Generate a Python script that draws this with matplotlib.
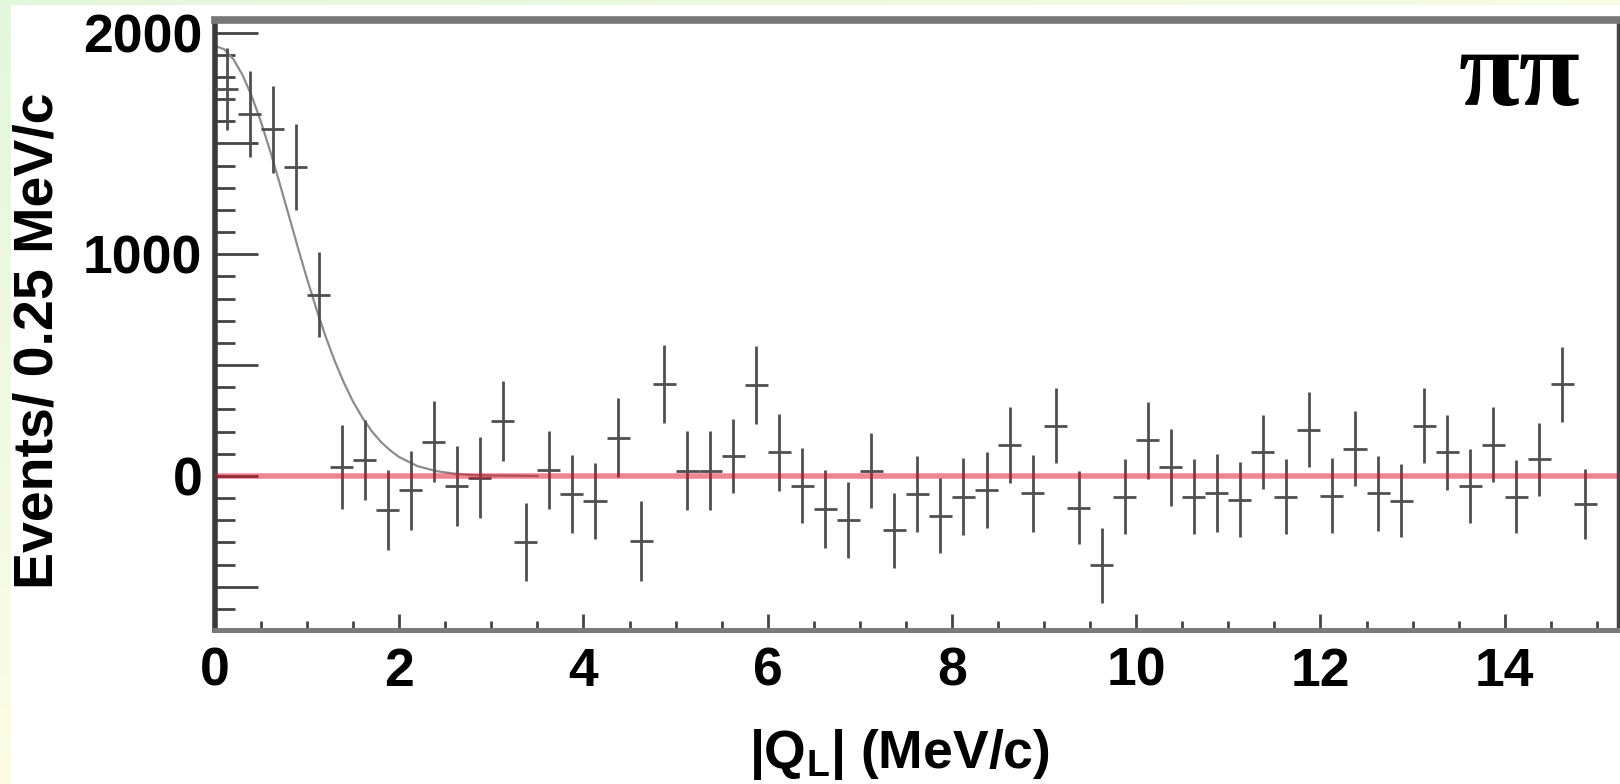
"""
|Q_L| distribution for pi-pi pairs: background-subtracted events with the
Gaussian fit, re-drawn in matplotlib (ROOT-like style).
"""

import numpy as np
import matplotlib
matplotlib.use("Agg")
import matplotlib.pyplot as plt
from matplotlib.patches import Rectangle
from matplotlib.ticker import MultipleLocator, FuncFormatter

W_PX, H_PX = 1620, 784
DPI = 100

plt.rcParams["font.family"] = ["Liberation Sans", "DejaVu Sans"]
plt.rcParams["mathtext.fontset"] = "custom"
plt.rcParams["mathtext.rm"] = "Liberation Sans:bold"
plt.rcParams["mathtext.bf"] = "Liberation Sans:bold"
plt.rcParams["mathtext.it"] = "Liberation Sans:bold"

# ── Data ────────────────────────────────────────────────────────────────────
# bin centres (0.25 MeV/c bins)
q_centers = [
    0.125, 0.375, 0.625, 0.875, 1.125, 1.375, 1.625, 1.875, 2.125, 2.375,
    2.625, 2.875, 3.125, 3.375, 3.625, 3.875, 4.125, 4.375, 4.625, 4.875,
    5.125, 5.375, 5.625, 5.875, 6.125, 6.375, 6.625, 6.875, 7.125, 7.375,
    7.625, 7.875, 8.125, 8.375, 8.625, 8.875, 9.125, 9.375, 9.625, 9.875,
    10.125, 10.375, 10.625, 10.875, 11.125, 11.375, 11.625, 11.875, 12.125, 12.375,
    12.625, 12.875, 13.125, 13.375, 13.625, 13.875, 14.125, 14.375, 14.625, 14.875,
]
events = [
    1745, 1631, 1563, 1393, 818, 41, 72, -154, -65, 155,
    -45, -7, 248, -297, 27, -81, -113, 173, -294, 414,
    24, 24, 90, 411, 107, -44, -148, -199, 23, -245,
    -81, -179, -93, -63, 140, -78, 226, -143, -402, -93,
    160, 39, -93, -78, -108, 107, -93, 208, -89, 122,
    -78, -111, 226, 107, -45, 140, -93, 75, 414, -128,
]
event_errors = [
    185, 194, 195, 195, 192, 188, 181, 181, 177, 181,
    181, 181, 181, 177, 177, 177, 173, 177, 181, 177,
    177, 177, 169, 177, 173, 169, 177, 173, 169, 169,
    173, 169, 173, 173, 173, 173, 169, 166, 169, 169,
    173, 173, 168, 175, 169, 166, 169, 169, 168, 169,
    169, 166, 169, 169, 166, 169, 166, 166, 169, 158,
]
half_bin = 0.125

# Gaussian fit curve
fit_q = [0.0, 0.1, 0.2, 0.3, 0.4, 0.5, 0.6, 0.7, 0.8, 0.9, 1.0, 1.1, 1.2,
         1.3, 1.4, 1.5, 1.6, 1.7, 1.8, 1.9, 2.0, 2.2, 2.4, 2.6, 2.8, 3.0, 3.5]
fit_events = [1940, 1925, 1880, 1808, 1712, 1596, 1464, 1323, 1177, 1030,
              888, 754, 630, 518, 420, 334, 263, 203, 154, 116, 85, 44, 22,
              10, 4, 2, 0]

X_LIM = (0, 15.23)
Y_LIM = (-695, 2057)
TICK_FONT = 38.5
XLABEL_FONT = 38.5
YLABEL_FONT = 40


def px_box(left, top, right, bottom):
    """Figure-fraction rectangle from pixel edges."""
    return [left / W_PX, 1 - bottom / H_PX, (right - left) / W_PX, (bottom - top) / H_PX]


def draw_background(fig):
    """Thin green/yellow border on the left and top, white elsewhere."""
    bg = fig.add_axes([0, 0, 1, 1], zorder=-10)
    bg.set_axis_off()
    green = np.array([0.89, 0.97, 0.86])
    yellow = np.array([0.99, 0.99, 0.90])
    gx, gy = np.meshgrid(np.linspace(0, 1, 64), np.linspace(0, 1, 64))
    t = np.clip(0.8 * gx + gy, 0, 1)[..., None]
    grad = green * (1 - t) + yellow * t
    bg.imshow(grad, extent=(0, 1, 0, 1), aspect="auto", origin="upper")
    bg.add_patch(Rectangle((11 / W_PX, 0), 1, 1 - 5 / H_PX,
                           transform=bg.transAxes, color="white", lw=0))
    bg.set_xlim(0, 1)
    bg.set_ylim(0, 1)


def main():
    fig = plt.figure(figsize=(W_PX / DPI, H_PX / DPI), dpi=DPI)
    draw_background(fig)

    ax = fig.add_axes(px_box(215, 20, 1618, 630))
    ax.set_facecolor("white")

    ax.errorbar(q_centers, events, yerr=event_errors, xerr=half_bin,
                fmt="none", ecolor="#4f4f4f", elinewidth=2.0, capsize=0, zorder=3)
    ax.plot(fit_q, fit_events, color="#8c8c8c", lw=1.6, zorder=2)
    ax.axhline(0, color=(0.86, 0.06, 0.16), alpha=0.5, lw=4.0, zorder=5)

    ax.set_xlim(*X_LIM)
    ax.set_ylim(*Y_LIM)

    # ROOT style: inward ticks on left/bottom only
    ax.xaxis.set_major_locator(MultipleLocator(2))
    ax.xaxis.set_minor_locator(MultipleLocator(0.5))
    ax.yaxis.set_major_locator(MultipleLocator(500))
    ax.yaxis.set_minor_locator(MultipleLocator(100))
    ax.yaxis.set_major_formatter(
        FuncFormatter(lambda v, pos: f"{v:.0f}" if abs(v % 1000) < 1e-6 else ""))
    ax.xaxis.set_major_formatter(FuncFormatter(lambda v, pos: f"{v:.0f}"))

    ax.tick_params(axis="both", which="both", direction="in",
                   top=False, right=False, colors="#444444", width=2.0)
    ax.tick_params(axis="y", which="major", length=31, pad=9)
    ax.tick_params(axis="y", which="minor", length=14.5)
    ax.tick_params(axis="x", which="major", length=11.5, pad=12)
    ax.tick_params(axis="x", which="minor", length=6.5)
    for lab in ax.get_xticklabels() + ax.get_yticklabels():
        lab.set_fontsize(TICK_FONT)
        lab.set_fontweight("bold")
        lab.set_color("black")

    ax.spines["left"].set_color("#3a3a3a")
    ax.spines["left"].set_linewidth(4.0)
    ax.spines["bottom"].set_color("#7a7a7a")
    ax.spines["bottom"].set_linewidth(3.6)
    ax.spines["top"].set_color("#777777")
    ax.spines["top"].set_linewidth(5.5)
    ax.spines["right"].set_color("#444444")
    ax.spines["right"].set_linewidth(2.5)

    fig.text(899 / W_PX, 1 - 755 / H_PX, r"|Q$_{\rm L}$| (MeV/c)",
             ha="center", va="center", fontsize=XLABEL_FONT, fontweight="bold")
    fig.text(39 / W_PX, 1 - 341 / H_PX, "Events/ 0.25 MeV/c", rotation=90,
             ha="center", va="center", fontsize=YLABEL_FONT, fontweight="bold")
    fig.text(1520 / W_PX, 1 - 78 / H_PX, "\u03c0\u03c0",
             ha="center", va="center", fontsize=80, fontweight="bold",
             family=["Liberation Serif", "DejaVu Serif"])

    fig.savefig("out.png", dpi=DPI)
    plt.close(fig)


if __name__ == "__main__":
    main()
